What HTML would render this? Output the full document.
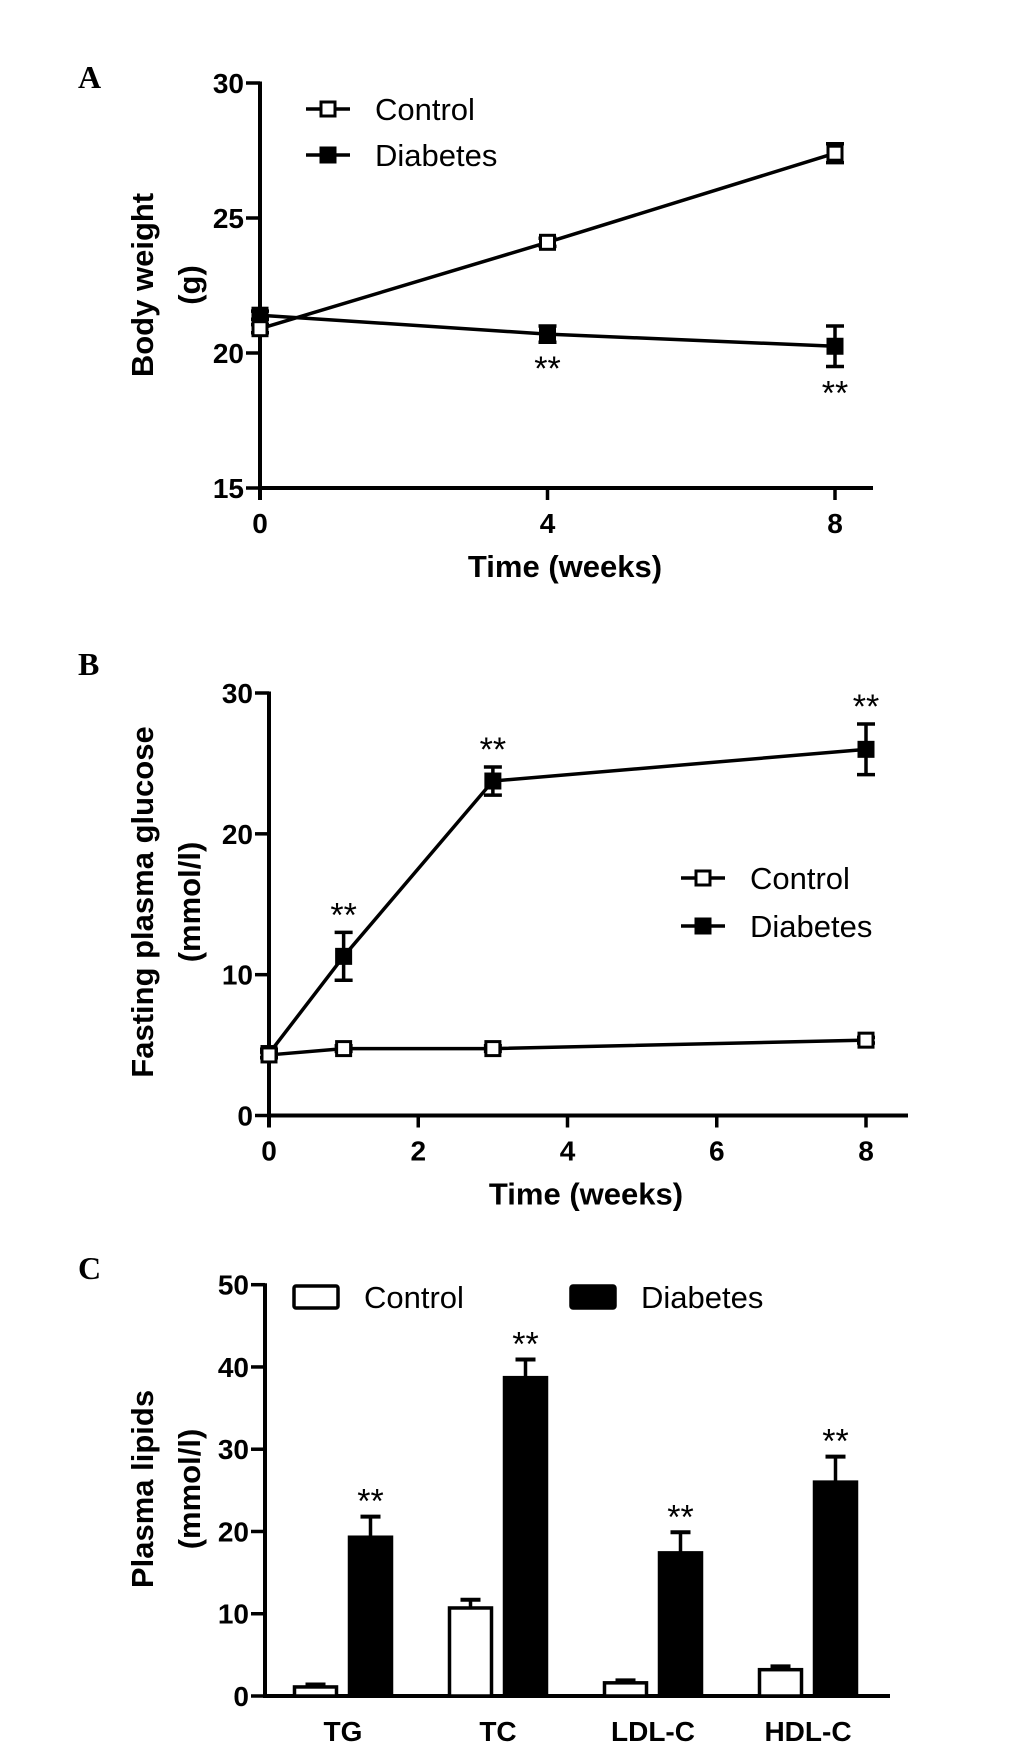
<!DOCTYPE html>
<html><head><meta charset="utf-8"><style>
html,body{margin:0;padding:0;background:#fff;}
svg{display:block;font-family:"Liberation Sans",Arial,sans-serif;}
.tick{font-weight:bold;font-size:28px;}
.ttl{font-weight:bold;font-size:31px;}
.leg{font-size:31px;}
.pl{font-family:"Liberation Serif",serif;font-weight:bold;font-size:32px;}
.star{font-size:34px;}
</style></head><body>
<svg id="fig" width="1033" height="1750" viewBox="0 0 1033 1750" xmlns="http://www.w3.org/2000/svg"></svg>
<script>
// Panel A data
const aWeeks=[0,4,8];
const aControl=[20.9,24.1,27.4];
const aControlErr=[0.15,0.15,0.35];
const aDiabetes=[21.4,20.7,20.25];
const aDiabetesErr=[0.15,0.3,0.75];
const aYTicks=[15,20,25,30];
const aXTicks=[0,4,8];
const aSig=[false,true,true];
// Panel B data
const bWeeks=[0,1,3,8];
const bControl=[4.3,4.75,4.75,5.35];
const bControlErr=[0.2,0.2,0.2,0.2];
const bDiabetes=[4.4,11.3,23.75,26.0];
const bDiabetesErr=[0.3,1.7,1.0,1.8];
const bYTicks=[0,10,20,30];
const bXTicks=[0,2,4,6,8];
const bSig=[false,true,true,true];
// Panel C data
const cCategories=["TG","TC","LDL-C","HDL-C"];
const cControl=[1.1,10.7,1.6,3.2];
const cControlErr=[0.3,1.0,0.3,0.4];
const cDiabetes=[19.3,38.7,17.4,26.0];
const cDiabetesErr=[2.5,2.2,2.5,3.1];
const cYTicks=[0,10,20,30,40,50];

const NS="http://www.w3.org/2000/svg";
const svg=document.getElementById('fig');
function el(tag,attrs,parent,text){
  const e=document.createElementNS(NS,tag);
  for(const k in attrs)e.setAttribute(k,attrs[k]);
  if(text!==undefined)e.textContent=text;
  (parent||svg).appendChild(e);return e;
}
function line(x1,y1,x2,y2,g,w){return el('line',{x1,y1,x2,y2,stroke:'#000','stroke-width':w||3.5},g);}

function linePanel(o){
  const g=el('g',{});
  
  
  const X=v=>o.x0+(v-o.xmin)/(o.xmax-o.xmin)*(o.x1-o.x0);
  const Y=v=>o.y0+(v-o.ymin)/(o.ymax-o.ymin)*(o.y1-o.y0);
  const ya=line(o.x0,Y(o.ymax)-1.5,o.x0,o.y0+12,g,4);
  
  const xa=line(o.x0,o.y0,o.xend,o.y0,g,4);
  
  o.yTicks.forEach(t=>{
    line(o.x0-14,Y(t),o.x0,Y(t),g,3.5);
    const tx=el('text',{x:o.x0-16,y:Y(t)+10,'text-anchor':'end',class:'tick'},g,t);
    
  });
  o.xTicks.forEach(t=>{
    line(X(t),o.y0,X(t),o.y0+12,g,3.5);
    const tx=el('text',{x:X(t),y:o.y0+45,'text-anchor':'middle',class:'tick'},g,t);
    
  });
  const xt=el('text',{x:o.xtX,y:o.y0+89,'text-anchor':'middle',class:'ttl'},g,'Time (weeks)');
  
  const yt=el('text',{transform:`translate(${o.ytX},${o.ytY}) rotate(-90)`,'text-anchor':'middle',class:'ttl'},g);
  
  el('tspan',{x:0,y:0},yt,o.yt1);el('tspan',{x:0,y:47},yt,o.yt2);
  const pl=el('text',{x:78,y:o.plY,class:'pl'},g,o.letter);
  
  function series(xs,ys,es,filled,nm){
    const sg=el('g',{},g);
    
    el('polyline',{points:xs.map((x,i)=>X(x)+','+Y(ys[i])).join(' '),fill:'none',stroke:'#000','stroke-width':3.5},sg);
    xs.forEach((x,i)=>{
      const cx=X(x),top=Y(ys[i]+es[i]),bot=Y(ys[i]-es[i]);
      line(cx,top,cx,bot,sg,3.5);line(cx-9,top,cx+9,top,sg,3.5);line(cx-9,bot,cx+9,bot,sg,3.5);
      const r=el('rect',{x:cx-7,y:Y(ys[i])-7,width:14,height:14,fill:filled?'#000':'#fff',stroke:'#000','stroke-width':3},sg);
      
    });
  }
  series(o.xs,o.diab,o.diabErr,true,'diabetes-series');
  series(o.xs,o.ctrl,o.ctrlErr,false,'control-series');
  o.xs.forEach((x,i)=>{
    if(!o.sig[i])return;
    const yy=o.sigAbove?Y(o.diab[i]+o.diabErr[i])-6:Y(o.diab[i]-o.diabErr[i])+38;
    const s=el('text',{x:X(x),y:yy,'text-anchor':'middle',class:'star'},g,'**');
    
  });
  const lg=el('g',{},g);
  
  [['Control',false,o.legY1],['Diabetes',true,o.legY2]].forEach(([t,f,ly])=>{
    const eg=el('g',{},lg);
    
    line(o.legX-22,ly,o.legX+22,ly,eg,3.5);
    el('rect',{x:o.legX-7,y:ly-7,width:14,height:14,fill:f?'#000':'#fff',stroke:'#000','stroke-width':3},eg);
    el('text',{x:o.legX+47,y:ly+11,class:'leg'},eg,t);
  });
}
linePanel({name:'panel-a-body-weight',letter:'A',plY:88,x0:260,x1:835,xend:873,xmin:0,xmax:8,y0:488,y1:83,ymin:15,ymax:30,
  yTicks:aYTicks,xTicks:aXTicks,xs:aWeeks,ctrl:aControl,ctrlErr:aControlErr,diab:aDiabetes,diabErr:aDiabetesErr,sig:aSig,sigAbove:false,
  xtX:565,ytX:153,ytY:285,yt1:'Body weight',yt2:'(g)',legX:328,legY1:109,legY2:155});
linePanel({name:'panel-b-glucose',letter:'B',plY:675,x0:269,x1:866,xend:908,xmin:0,xmax:8,y0:1115.5,y1:693,ymin:0,ymax:30,
  yTicks:bYTicks,xTicks:bXTicks,xs:bWeeks,ctrl:bControl,ctrlErr:bControlErr,diab:bDiabetes,diabErr:bDiabetesErr,sig:bSig,sigAbove:true,
  xtX:586,ytX:153,ytY:902,yt1:'Fasting plasma glucose',yt2:'(mmol/l)',legX:703,legY1:878,legY2:926});

(function(){
  const g=el('g',{});
  
  
  const x0=265,y0=1696,yTop=1284.7,ymax=50,xend=890;
  const Y=v=>y0-(v/ymax)*(y0-yTop);
  const groupX=i=>343+i*155; const bw=45;
  const ya=line(x0,yTop-1.5,x0,y0+2,g,4);
  
  const xa=line(x0,y0,xend,y0,g,4);
  
  cYTicks.forEach(t=>{
    line(x0-14,Y(t),x0,Y(t),g,3.5);
    const tx=el('text',{x:x0-16,y:Y(t)+10,'text-anchor':'end',class:'tick'},g,t);
    
  });
  cCategories.forEach((c,i)=>{
    const tx=el('text',{x:groupX(i),y:1741,'text-anchor':'middle',class:'tick'},g,c);
    
    [[cControl,cControlErr,false,-bw/2-5],[cDiabetes,cDiabetesErr,true,bw/2+5]].forEach(([vals,errs,f,off])=>{
      const cx=groupX(i)+off,v=vals[i],e=errs[i];
      line(cx,Y(v),cx,Y(v+e),g,3.5);line(cx-10,Y(v+e),cx+10,Y(v+e),g,4);
      const r=el('rect',{x:cx-bw/2+1.5,y:Y(v),width:bw-3,height:y0-Y(v),fill:f?'#000':'#fff',stroke:'#000','stroke-width':3.5},g);
      
      if(f){
        const s=el('text',{x:cx,y:Y(v+e)-4,'text-anchor':'middle',class:'star'},g,'**');
        
      }
    });
  });
  const yt=el('text',{transform:'translate(153,1489) rotate(-90)','text-anchor':'middle',class:'ttl'},g);
  
  el('tspan',{x:0,y:0},yt,'Plasma lipids');el('tspan',{x:0,y:47},yt,'(mmol/l)');
  const pl=el('text',{x:78,y:1279,class:'pl'},g,'C');
  
  const lg=el('g',{},g);
  
  [['Control',false,294],['Diabetes',true,571]].forEach(([t,f,lx])=>{
    const eg=el('g',{},lg);
    
    el('rect',{x:lx,y:1286,width:44,height:22,rx:2,fill:f?'#000':'#fff',stroke:'#000','stroke-width':3.5},eg);
    el('text',{x:lx+70,y:1308,class:'leg'},eg,t);
  });
})();
</script>
</body></html>
